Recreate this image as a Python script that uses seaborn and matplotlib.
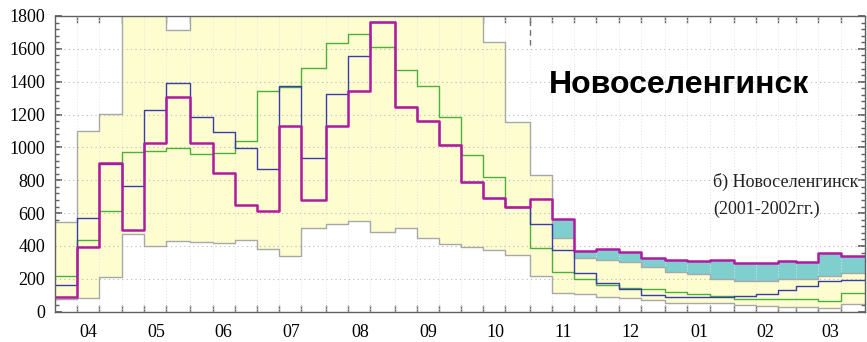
import numpy as np
import pandas as pd
import matplotlib
matplotlib.use("Agg")
import matplotlib.pyplot as plt
from matplotlib.ticker import MultipleLocator
import seaborn as sns

# Hydrological year April..March, values per ten-day period (decade), m3/s
months = ["04", "05", "06", "07", "08", "09", "10", "11", "12", "01", "02", "03"]
month_days = [30, 31, 30, 31, 31, 30, 31, 30, 31, 31, 28, 31]

# multi-year envelope: maximum and minimum per decade
q_max = [548, 1102, 1201, 2050, 2300, 1715, 2100, 2200, 2000, 2150, 2400, 2500,
         2300, 2600, 2450, 2200, 2100, 1950, 1900, 1643, 1157, 832, 447, 325,
         315, 305, 274, 244, 230, 199, 189, 189, 197, 197, 217, 238]
q_min = [77, 85, 213, 471, 400, 432, 422, 416, 436, 379, 339, 507,
         532, 552, 483, 511, 446, 410, 392, 375, 345, 217, 116, 108,
         91, 81, 71, 55, 51, 51, 41, 35, 31, 27, 25, 47]

# individual series
q_green = [219, 436, 615, 970, 978, 998, 958, 964, 1039, 1345, 1366, 1481,
           1633, 1688, 1613, 1471, 1374, 1187, 954, 818, 639, 386, 244, 197,
           163, 142, 136, 122, 106, 95, 77, 77, 75, 75, 67, 112]
q_blue = [162, 568, 897, 767, 1228, 1390, 1187, 1096, 994, 866, 1376, 933,
          1323, 1556, 1765, 1248, 1163, 1015, 791, 690, 635, 532, 376, 238,
          173, 136, 102, 91, 88, 88, 96, 106, 132, 156, 187, 193]
q_purple = [91, 396, 907, 497, 1025, 1305, 1029, 846, 649, 615, 1130, 680,
            1130, 1343, 1765, 1248, 1163, 1015, 791, 690, 635, 686, 564, 371,
            382, 365, 325, 315, 309, 315, 295, 299, 309, 303, 355, 339]

station = "Новоселенгинск"
caption = ["б) Новоселенгинск", "(2001-2002гг.)"]

sns.set_theme(style="ticks")
plt.rcParams["font.family"] = ["Liberation Serif", "DejaVu Serif"]
plt.rcParams["text.color"] = "black"
plt.rcParams["xtick.labelcolor"] = "black"
plt.rcParams["ytick.labelcolor"] = "black"

# decade edges in days from 1 April
starts = np.concatenate([[0], np.cumsum(month_days)[:-1]])
edges = np.concatenate([np.array([s, s + 10, s + 20]) for s in starts] + [np.array([365])])
centers = starts + np.array(month_days) / 2.0


def stepped(vals):
    v = np.asarray(vals, dtype=float)
    return np.append(v, v[-1])


ymax, ymin = stepped(q_max), stepped(q_min)
ygreen, yblue, ypurple = stepped(q_green), stepped(q_blue), stepped(q_purple)

df = pd.DataFrame({
    "day": np.tile(edges, 5),
    "value": np.concatenate([ymax, ymin, ygreen, yblue, ypurple]),
    "series": np.repeat(["max", "min", "green", "blue", "purple"], len(edges)),
})

fig = plt.figure(figsize=(8.67, 3.42), dpi=100)
ax = fig.add_axes([55 / 867, 1 - 311.7 / 342, 810 / 867, (311.7 - 16) / 342])
ax.set_facecolor("white")

# envelope and exceedance fills
ax.fill_between(edges, ymin, ymax, step="post", color="#fdfdd0", lw=0, zorder=1)
ax.fill_between(edges, ymax, np.maximum(ypurple, ymax), step="post",
                color="#7fcfcf", lw=0, zorder=1.1)

# grid
for x in edges[1:-1]:
    ax.plot([x, x], [0, 1800], color="#e4e4e4", lw=0.7, ls=(0, (1, 2)), zorder=1.2)
for y in range(200, 1800, 200):
    ax.plot([0, 365], [y, y], color="#b8b8b8", lw=0.8, ls=(0, (1, 3)), zorder=1.3)
ax.plot([214, 214], [1625, 1800], color="#707070", lw=1.0, ls=(0, (4, 3)), zorder=1.3)

styles = {
    "max": dict(color="#a8a8a8", lw=1.0, zorder=2),
    "min": dict(color="#a8a8a8", lw=1.0, zorder=2),
    "green": dict(color="#4fae3c", lw=1.0, zorder=3),
    "blue": dict(color="#3a3ca8", lw=1.0, zorder=4),
    "purple": dict(color="#b01aa0", lw=1.8, zorder=5),
}
for name, st in styles.items():
    sns.lineplot(data=df[df["series"] == name], x="day", y="value",
                 drawstyle="steps-post", estimator=None, sort=False,
                 legend=False, ax=ax, **st)

ax.set_xlim(0, 365)
ax.set_ylim(0, 1800)
ax.set_xlabel("")
ax.set_ylabel("")

ax.set_xticks(centers)
ax.set_xticklabels(months)
ax.set_xticks(edges[1:-1], minor=True)
ax.tick_params(axis="x", which="major", length=0, pad=9, labelsize=13)
ax.tick_params(axis="x", which="minor", direction="in", length=5,
               top=True, bottom=True, color="#606060")

ax.set_yticks(range(0, 1801, 200))
ax.yaxis.set_minor_locator(MultipleLocator(40))
ax.tick_params(axis="y", which="major", direction="in", length=5, left=True,
               right=True, labelsize=13, pad=7, color="#606060")
ax.tick_params(axis="y", which="minor", direction="in", length=3, left=True,
               right=True, color="#606060")

for sp in ax.spines.values():
    sp.set_color("#606060")
    sp.set_linewidth(1.0)
    sp.set_zorder(6)

fig.text(549 / 867, 1 - 93 / 342, station, fontsize=23, fontweight="bold",
         family=["Liberation Sans", "DejaVu Sans"], va="baseline", ha="left",
         color="black")
fig.text(713 / 867, 1 - 187 / 342, caption[0], fontsize=13, va="baseline",
         ha="left", color="#222222")
fig.text(713 / 867, 1 - 214 / 342, caption[1], fontsize=13, va="baseline",
         ha="left", color="#222222")

fig.savefig("out.png", dpi=100)
